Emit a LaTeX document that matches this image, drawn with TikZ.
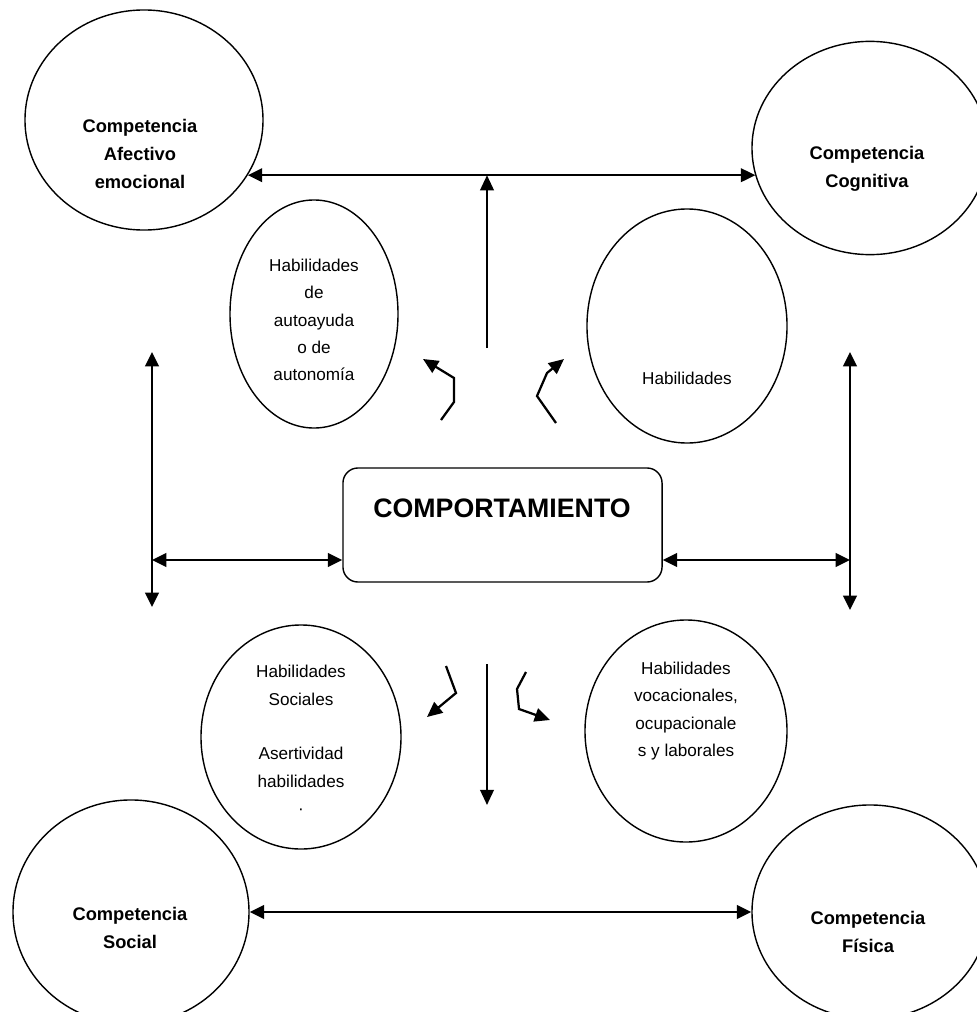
\documentclass[tikz,border=0pt]{standalone}
\usepackage{fontspec}
\setmainfont{Liberation Sans}
\usetikzlibrary{shapes.geometric, arrows.meta, positioning, calc}

\begin{document}
\begin{tikzpicture}[
    x=0.025cm, y=-0.025cm,
    comp/.style={draw, ellipse, line width=1pt, inner sep=0pt},
    hab/.style={draw, ellipse, line width=1pt, inner sep=0pt},
    comptext/.style={align=center, font=\fontsize{13}{20}\selectfont\bfseries},
    habtext/.style={align=center, font=\fontsize{12.2}{19.5}\selectfont},
    conn/.style={line width=1.6pt, -{Triangle[length=3.8mm, width=3.4mm]}},
    biconn/.style={line width=1.6pt, {Triangle[length=3.6mm, width=3.4mm]}-{Triangle[length=3.6mm, width=3.4mm]}}
]
\useasboundingbox (0,0) rectangle (977,1012);

\node[comp, minimum width=5.95cm, minimum height=5.5cm] (afect) at (144,120) {};
\node[comptext] (afectT) at (140,154) {Competencia\\Afectivo\\emocional};
\node[comp, minimum width=5.9cm, minimum height=5.33cm] (cogn) at (870,148) {};
\node[comptext] (cognT) at (867,169) {Competencia\\Cognitiva};
\node[comp, minimum width=5.9cm, minimum height=5.6cm] (social) at (131,912) {};
\node[comptext] (socialT) at (130,928) {Competencia\\Social};
\node[comp, minimum width=5.9cm, minimum height=5.35cm] (fisica) at (870,912) {};
\node[comptext] (fisicaT) at (868,932) {Competencia\\Física};

\node[hab, minimum width=4.2cm, minimum height=5.7cm] (autonomia) at (314,314) {};
\node[habtext] (autonomiaT) at (314,320) {Habilidades\\de\\autoayuda\\o de\\autonomía};
\node[hab, minimum width=5cm, minimum height=5.85cm] (cognitivas) at (687,326) {};
\node[habtext] (cognitivasT) at (687,378) {Habilidades};
\node[hab, minimum width=5cm, minimum height=5.6cm] (sociales) at (301,737) {};
\node[habtext] (socialesT) at (301,740) {Habilidades\\Sociales\\[19.5pt]Asertividad\\habilidades\\·};
\node[hab, minimum width=5.05cm, minimum height=5.55cm] (vocacion) at (686,731) {};
\node[habtext] (vocacionT) at (686,711) {Habilidades\\vocacionales,\\ocupacionale\\s y laborales};

\node[draw, rectangle, rounded corners=0.375cm, line width=1pt, minimum width=7.975cm, minimum height=2.85cm] (comport) at (502.5,525) {};
\node[font=\fontsize{19}{23}\selectfont\bfseries] (comportT) at (502,508) {COMPORTAMIENTO};

\coordinate (tl) at (afect.-28);
\coordinate (tr) at ($(tl -| cogn.west)+(4,0)$);
\coordinate (up) at (487,348);
\coordinate (down1) at (487,664);
\coordinate (down2) at (487,805);
\coordinate (lv1) at (152,352);
\coordinate (lv2) at (152,607);
\coordinate (rv1) at (850,352);
\coordinate (rv2) at (850,610);
\coordinate (lh) at (152,560);
\coordinate (rh) at (850,560);

\draw[biconn] (tl) -- (tr);
\draw[conn] (up) -- (up |- tl);
\draw[biconn] (lv1) -- (lv2);
\draw[biconn] (rv1) -- (rv2);
\draw[biconn] (lh) -- (lh -| comport.west);
\draw[biconn] (comport.east |- rh) -- (rh);
\draw[conn] (down1) -- (down2);
\draw[biconn] (social.east) -- (fisica.west);

\coordinate (za1) at (441,420);
\coordinate (za2) at (454,402);
\coordinate (za3) at (454,378);
\coordinate (za4) at (423,359);
\coordinate (zb1) at (556,423);
\coordinate (zb2) at (537,396);
\coordinate (zb3) at (547,373);
\coordinate (zb4) at (564,359);
\coordinate (zc1) at (446,666);
\coordinate (zc2) at (456,693);
\coordinate (zc3) at (427,717);
\coordinate (zd1) at (526,672);
\coordinate (zd2) at (517,689);
\coordinate (zd3) at (519,709);
\coordinate (zd4) at (550,720);

\draw[conn] (za1) -- (za2) -- (za3) -- (za4);
\draw[conn] (zb1) -- (zb2) -- (zb3) -- (zb4);
\draw[conn] (zc1) -- (zc2) -- (zc3);
\draw[conn] (zd1) -- (zd2) -- (zd3) -- (zd4);
\end{tikzpicture}
\end{document}
